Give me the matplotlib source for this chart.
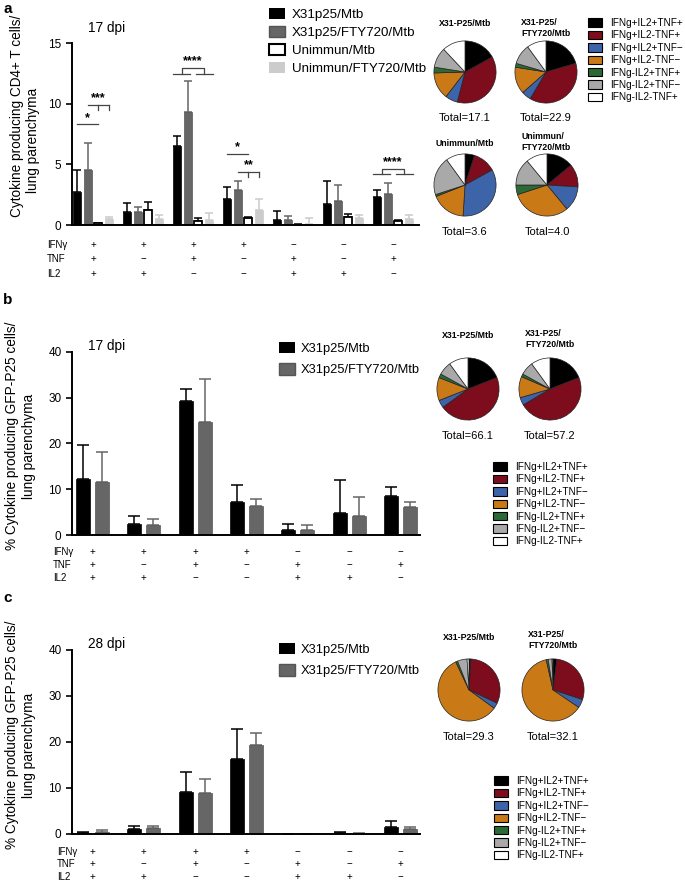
import numpy as np
import matplotlib.pyplot as plt
from matplotlib.patches import Patch

plt.rcParams['font.family'] = ['Liberation Sans', 'DejaVu Sans']

# ---- data -------------------------------------------------------------
ifng_signs = ['+', '+', '+', '+', '−', '−', '−']
tnf_signs = ['+', '−', '+', '−', '+', '−', '+']
il2_signs = ['+', '+', '−', '−', '+', '+', '−']

# panel a, 17 dpi, CD4+ T cells
a_x31 = [2.75, 1.1, 6.5, 2.15, 0.45, 1.75, 2.3]
a_x31_err = [1.8, 0.75, 0.85, 0.95, 0.7, 1.9, 0.55]
a_x31fty = [4.5, 1.1, 9.3, 2.85, 0.45, 1.95, 2.55]
a_x31fty_err = [2.25, 0.35, 2.55, 0.75, 0.3, 1.35, 0.95]
a_uni = [0.15, 1.2, 0.35, 0.55, 0.03, 0.65, 0.35]
a_uni_err = [0.05, 0.7, 0.2, 0.1, 0.05, 0.25, 0.1]
a_unifty = [0.5, 0.5, 0.45, 1.2, 0.1, 0.55, 0.5]
a_unifty_err = [0.2, 0.35, 0.5, 0.95, 0.45, 0.25, 0.3]

# panel b, 17 dpi, GFP-P25 cells
b_x31 = [12.2, 2.3, 29.2, 7.3, 1.1, 4.9, 8.6]
b_x31_err = [7.4, 1.8, 2.7, 3.6, 1.2, 7.2, 2.0]
b_x31fty = [11.6, 2.2, 24.7, 6.4, 1.0, 4.2, 6.2]
b_x31fty_err = [6.6, 1.2, 9.5, 1.45, 1.25, 4.2, 1.1]

# panel c, 28 dpi, GFP-P25 cells
c_x31 = [0.2, 1.0, 9.1, 16.4, 0.05, 0.3, 1.6]
c_x31_err = [0.25, 0.75, 4.45, 6.4, 0.0, 0.1, 1.2]
c_x31fty = [0.4, 1.2, 8.85, 19.4, 0.05, 0.1, 1.0]
c_x31fty_err = [0.45, 0.55, 3.1, 2.5, 0.0, 0.05, 0.5]

pie_labels = ['IFNg+IL2+TNF+', 'IFNg+IL2-TNF+', 'IFNg+IL2+TNF−', 'IFNg+IL2-TNF−',
              'IFNg-IL2+TNF+', 'IFNg-IL2+TNF−', 'IFNg-IL2-TNF+']
pie_colors = ['#000000', '#7d0c1c', '#3d63a8', '#c97916', '#2b6a35', '#a9a9a9', '#ffffff']

a_pie_x31 = [17, 37, 6.5, 14, 3, 10.5, 12]
a_pie_x31fty = [20.5, 38, 5, 14, 2, 10.5, 10]
a_pie_uni = [5, 12, 34, 18, 1, 20, 10]
a_pie_unifty = [14, 12, 13, 31, 5, 14, 11]
b_pie_x31 = [19, 46, 4, 12, 2, 7, 10]
b_pie_x31fty = [19, 47.5, 4, 11, 1.5, 7, 10]
c_pie_x31 = [1, 31, 3, 58, 1, 5, 1]
c_pie_x31fty = [2, 28, 4.5, 62, 1, 2, 0.5]

# ---- layout helpers (pixel coords, origin top-left) --------------------
W, H = 685, 884
fig = plt.figure(figsize=(6.85, 8.84), dpi=100)


def box(l, t, r, b):
    return [l / W, 1 - b / H, (r - l) / W, (b - t) / H]


def ftxt(x, y, s, **kw):
    fig.text(x / W, 1 - y / H, s, **kw)


def bar_panel(rect, ymax, step, series, width, offsets, xlim, cap):
    ax = fig.add_axes(box(*rect))
    x = np.arange(7)
    for (vals, errs, fc, ec, lw, errc), off in zip(series, offsets):
        ax.bar(x + off, vals, width, color=fc, edgecolor=ec, linewidth=lw, zorder=2)
        ax.errorbar(x + off, vals, yerr=[np.zeros(7), errs], fmt='none', ecolor=errc,
                    elinewidth=1.1, capsize=cap, capthick=1.1, zorder=1)
    ax.set_xlim(*xlim)
    ax.set_ylim(0, ymax)
    ax.set_yticks(np.arange(0, ymax + 1, step))
    ax.set_xticks([])
    for s in ['top', 'right']:
        ax.spines[s].set_visible(False)
    for s in ['left', 'bottom']:
        ax.spines[s].set_linewidth(1.4)
    ax.tick_params(axis='y', labelsize=8.5, width=1.2, length=4)
    return ax


def sign_rows(ax, ys, xlab):
    tr = ax.get_xaxis_transform()
    pos = ax.get_position()
    xa = (xlab / W - pos.x0) / pos.width
    for y, signs, name in zip(ys, [ifng_signs, tnf_signs, il2_signs], ['IFNγ', 'TNF', 'IL2']):
        for i, s in enumerate(signs):
            ax.text(i, y, s, transform=tr, ha='center', va='center', fontsize=7)
        ax.text(xa, y, name, transform=ax.transAxes, ha='left', va='center', fontsize=7)


def pies(centers, data, r=31):
    for (cx, cy), vals in zip(centers, data):
        pa = fig.add_axes(box(cx - r - 1, cy - r - 1, cx + r + 1, cy + r + 1))
        pa.pie(vals, colors=pie_colors, startangle=90, counterclock=False,
               wedgeprops=dict(edgecolor='#222222', linewidth=0.5))
        pa.set_xlim(-1.03, 1.03)
        pa.set_ylim(-1.03, 1.03)
        pa.set_aspect('equal')


pie_handles = [Patch(facecolor=c, edgecolor='black', linewidth=0.8) for c in pie_colors]


def pie_legend(x, y):
    fig.legend(pie_handles, pie_labels, loc='upper left', bbox_to_anchor=(x / W, 1 - y / H),
               frameon=False, fontsize=7.2, handlelength=1.4, handleheight=0.9,
               handletextpad=0.8, labelspacing=0.24, borderpad=0, borderaxespad=0)


# ---- panel a ----------------------------------------------------------
wa = 0.215
axa = bar_panel((72, 43, 419, 225), 15, 5,
                [(a_x31, a_x31_err, 'black', 'black', 0.5, 'black'),
                 (a_x31fty, a_x31fty_err, '#666666', '#555555', 0.5, '#666666'),
                 (a_uni, a_uni_err, 'white', 'black', 1.3, 'black'),
                 (a_unifty, a_unifty_err, '#cccccc', '#cccccc', 0.5, '#cccccc')],
                0.16, [-1.5 * wa, -0.5 * wa, 0.5 * wa, 1.5 * wa], (-0.42, 6.52), 3)
sign_rows(axa, [-0.11, -0.187, -0.27], 47)


def bx(g, k):
    return g + (k - 1.5) * wa


lc = dict(color='#444444', lw=0.9, clip_on=False)
sk = dict(ha='center', va='bottom', fontsize=9, fontweight='bold')
# *  group 1 and group 4
for g, y in [(0, 8.3), (3, 5.85)]:
    axa.plot([bx(g, 0), bx(g, 2)], [y, y], **lc)
    axa.text((bx(g, 0) + bx(g, 2)) / 2, y + 0.05, '*', **sk)
# *** group 1, ** group 4
for g, y, st in [(0, 9.9, '***'), (3, 4.35, '**')]:
    axa.plot([bx(g, 1), bx(g, 3)], [y, y], **lc)
    axa.plot([bx(g, 2), bx(g, 2)], [y, y - 0.4], **lc)
    axa.plot([bx(g, 3), bx(g, 3)], [y, y - 0.4], **lc)
    axa.text((bx(g, 1) + bx(g, 3)) / 2, y + 0.05, st, **sk)
# **** group 3 and group 7
for g, ylo, yhi in [(2, 12.45, 12.95), (6, 4.2, 4.6)]:
    axa.plot([bx(g, 0) - 0.08, bx(g, 1) + 0.05], [ylo, ylo], **lc)
    axa.plot([bx(g, 2) - 0.05, bx(g, 3) + 0.08], [ylo, ylo], **lc)
    m1, m2 = (bx(g, 0) + bx(g, 1)) / 2, (bx(g, 2) + bx(g, 3)) / 2
    axa.plot([m1, m1, m2, m2], [ylo, yhi, yhi, ylo], **lc)
    axa.text(g, yhi + 0.05, '****', **sk)

ftxt(3, 2, 'a', fontsize=11, fontweight='bold', va='top')
ftxt(88, 28, '17 dpi', fontsize=9.8, va='center')
ftxt(17, 116, 'Cytokine producing CD4+ T cells/', rotation=90, ha='center', va='center', fontsize=9.8)
ftxt(33, 140, 'lung parenchyma', rotation=90, ha='center', va='center', fontsize=9.8)

bar_handles_a = [Patch(facecolor='black'), Patch(facecolor='#666666', edgecolor='#555555'),
                 Patch(facecolor='white', edgecolor='black', linewidth=1.5), Patch(facecolor='#cccccc')]
fig.legend(bar_handles_a, ['X31p25/Mtb', 'X31p25/FTY720/Mtb', 'Unimmun/Mtb', 'Unimmun/FTY720/Mtb'],
           loc='upper left', bbox_to_anchor=(269 / W, 1 - 8 / H), frameon=False, fontsize=9.6,
           handlelength=1.2, handleheight=0.9, handletextpad=0.5, labelspacing=0.36,
           borderpad=0, borderaxespad=0)

pies([(465, 72), (546, 72), (465, 185), (547, 185)],
     [a_pie_x31, a_pie_x31fty, a_pie_uni, a_pie_unifty])
tk = dict(ha='center', va='center', fontsize=6.3, fontweight='bold', multialignment='left')
ftxt(465, 24, 'X31-P25/Mtb', **tk)
ftxt(546, 28, 'X31-P25/\nFTY720/Mtb', **tk)
ftxt(465, 143, 'Unimmun/Mtb', **tk)
ftxt(546, 142, 'Unimmun/\nFTY720/Mtb', **tk)
tt = dict(ha='center', va='center', fontsize=8)
ftxt(465, 118, 'Total=17.1', **tt)
ftxt(546, 118, 'Total=22.9', **tt)
ftxt(465, 232, 'Total=3.6', **tt)
ftxt(547, 232, 'Total=4.0', **tt)
pie_legend(588, 18)

# ---- panels b and c ---------------------------------------------------
bar_handles_bc = [Patch(facecolor='black'), Patch(facecolor='#666666', edgecolor='#555555')]
for (top, bot, vals1, err1, vals2, err2, dpi, letter, ylab_c, rows, rowx,
     leg_y, pcy, pie_data, totals, pleg) in [
        (352, 535, b_x31, b_x31_err, b_x31fty, b_x31fty_err, '17 dpi', 'b', 436,
         [-0.093, -0.164, -0.235], 53, 342, 389, [b_pie_x31, b_pie_x31fty],
         ['Total=66.1', 'Total=57.2'], (493, 462)),
        (650, 834, c_x31, c_x31_err, c_x31fty, c_x31fty_err, '28 dpi', 'c', 735,
         [-0.098, -0.163, -0.234], 57, 643, 690, [c_pie_x31, c_pie_x31fty],
         ['Total=29.3', 'Total=32.1'], (494, 776))]:
    ax = bar_panel((72, top, 420, bot), 40, 10,
                   [(vals1, err1, 'black', 'black', 0.5, 'black'),
                    (vals2, err2, '#666666', '#555555', 0.5, '#666666')],
                   0.27, [-0.185, 0.185], (-0.40, 6.38), 4)
    sign_rows(ax, rows, rowx)
    ftxt(3, top - 52, letter, fontsize=11, fontweight='bold', va='center')
    ftxt(88, top - 6, dpi, fontsize=9.8, va='center')
    ftxt(12, ylab_c, '% Cytokine producing GFP-P25 cells/', rotation=90, ha='center', va='center', fontsize=9.8)
    ftxt(29, ylab_c + 10, 'lung parenchyma', rotation=90, ha='center', va='center', fontsize=9.8)
    fig.legend(bar_handles_bc, ['X31p25/Mtb', 'X31p25/FTY720/Mtb'], loc='upper left',
               bbox_to_anchor=(279 / W, 1 - leg_y / H), frameon=False, fontsize=9.3,
               handlelength=1.2, handleheight=0.95, handletextpad=0.5, labelspacing=0.65,
               borderpad=0, borderaxespad=0)
    cx1, cx2 = (468, 550) if letter == 'b' else (469, 553)
    pies([(cx1, pcy), (cx2, pcy)], pie_data)
    ftxt(cx1, pcy - 53, 'X31-P25/Mtb', **tk)
    ftxt(cx2, pcy - 50, 'X31-P25/\nFTY720/Mtb', **tk)
    ftxt(cx1, pcy + 47, totals[0], **tt)
    ftxt(cx2, pcy + 47, totals[1], **tt)
    pie_legend(*pleg)

fig.savefig('out.png', dpi=100)
